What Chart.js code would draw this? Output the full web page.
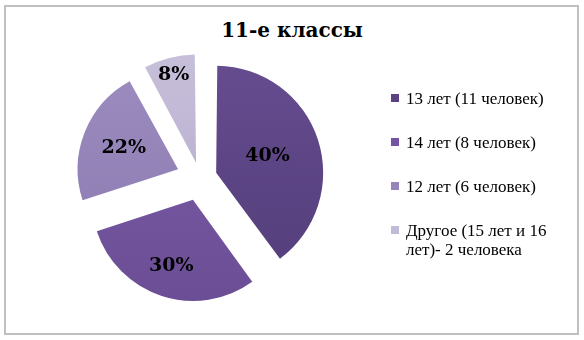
<!DOCTYPE html>
<html>
<head>
<meta charset="utf-8">
<script src="https://cdn.jsdelivr.net/npm/chart.js@4"></script>
<style>

    html, body {
        margin: 0;
        padding: 0;
        background: #ffffff;
    }

    #frame {
        position: relative;
        width: 584px;
        height: 340px;
        overflow: hidden;
    }

    #border {
        position: absolute;
        left: 4px;
        top: 5px;
        width: 571px;
        height: 326px;
        border: 2px solid #c0c0c0;
    }

    #title {
        position: absolute;
        left: 0;
        top: 18px;
        width: 584px;
        text-align: center;
        font-family: "DejaVu Serif", serif;
        font-weight: bold;
        font-size: 20px;
        color: #000000;
    }

    #chart-box {
        position: absolute;
        left: 0;
        top: 8px;
        width: 400px;
        height: 340px;
    }

    #legend {
        position: absolute;
        left: 390px;
        top: 89px;
        width: 184px;
        font-family: "Liberation Serif", serif;
        font-size: 17px;
        line-height: 19px;
        color: #000000;
    }

    .item {
        position: relative;
        padding-left: 16px;
        height: 44px;
    }

    .mark {
        position: absolute;
        left: 1px;
        top: 5px;
        width: 8px;
        height: 8px;
    }

</style>
</head>
<body>

<div id="frame">

    <div id="border"></div>

    <div id="title">11-е классы</div>

    <div id="chart-box">
        <canvas id="pie-chart" width="400" height="340"></canvas>
    </div>

    <div id="legend"></div>

</div>

<script>

// данные диаграммы
const categories = [
    "13 лет (11 человек)",
    "14 лет (8 человек)",
    "12 лет (6 человек)",
    "Другое (15 лет и 16 лет)- 2 человека"
];

const shares = [40, 30, 22, 8];

const shareLabels = ["40%", "30%", "22%", "8%"];


// оформление
const topColors    = ["#6a5095", "#8060ad", "#a291c4", "#cdc6de"];
const bottomColors = ["#4f3a74", "#65498f", "#8575ab", "#aca2c6"];
const markColors   = ["#5a4282", "#7455a3", "#9584ba", "#c2bbd6"];

// вынос секторов, px
const explode = 24;

// расстояние подписи от центра (доля радиуса)
const labelDist = [0.71, 0.93, 0.82, 1.06];


function sliceFill(context) {

    const chart = context.chart;
    const area = chart.chartArea;

    if (!area) {
        return topColors[context.dataIndex];
    }

    const g = chart.ctx.createLinearGradient(
        0, area.top, 0, area.bottom
    );

    g.addColorStop(0, topColors[context.dataIndex]);
    g.addColorStop(1, bottomColors[context.dataIndex]);

    return g;
}


// Chart.js сдвигает сектор на offset/4 * (2 - sin(угол)),
// поэтому подбираем offset так, чтобы вынос был одинаковым
function sliceOffset(context) {

    const total = shares.reduce(function (a, b) { return a + b; }, 0);
    const circ = shares[context.dataIndex] / total * Math.PI * 2;
    const fix = 1 - Math.sin(Math.min(Math.PI, circ));

    return explode * 4 / (1 + fix);
}


// подписи процентов внутри секторов
const pieLabels = {

    id: "pieLabels",

    afterDatasetsDraw(chart) {

        const ctx = chart.ctx;
        const meta = chart.getDatasetMeta(0);

        ctx.save();

        ctx.font = "bold 19px 'DejaVu Serif', serif";
        ctx.fillStyle = "#000000";
        ctx.textAlign = "center";
        ctx.textBaseline = "middle";

        meta.data.forEach(function (arc, i) {

            const mid = (arc.startAngle + arc.endAngle) / 2;
            const d = arc.outerRadius * labelDist[i];

            ctx.fillText(
                shareLabels[i],
                arc.x + Math.cos(mid) * d,
                arc.y + Math.sin(mid) * d
            );
        });

        ctx.restore();
    }
};


new Chart(
    document.getElementById("pie-chart"),
    {
        type: "pie",

        data: {
            labels: categories,
            datasets: [{
                data: shares,
                backgroundColor: sliceFill,
                borderWidth: 0,
                offset: sliceOffset,
                hoverOffset: 0
            }]
        },

        options: {
            responsive: false,
            animation: false,
            radius: 100,
            layout: {
                padding: 0
            },
            plugins: {
                legend: { display: false },
                tooltip: { enabled: false }
            }
        },

        plugins: [pieLabels]
    }
);


// легенда справа
const legend = document.getElementById("legend");

categories.forEach(function (name, i) {

    const item = document.createElement("div");
    item.className = "item";

    const mark = document.createElement("div");
    mark.className = "mark";
    mark.style.background = markColors[i];

    const text = document.createElement("div");
    text.textContent = name;

    item.appendChild(mark);
    item.appendChild(text);
    legend.appendChild(item);
});

</script>

</body>
</html>
